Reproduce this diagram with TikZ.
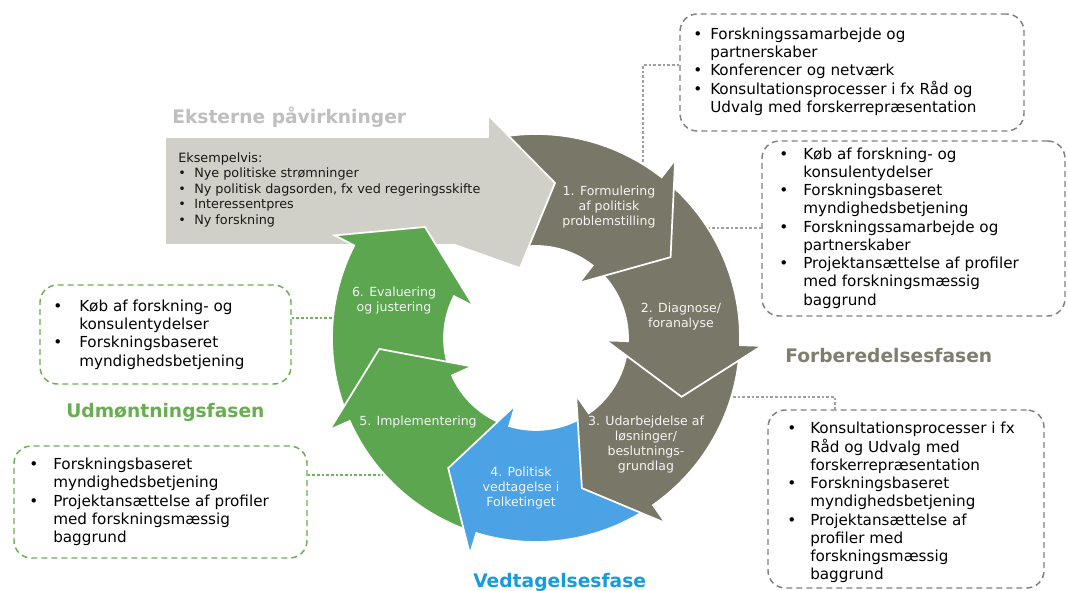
\documentclass[tikz,border=0pt]{standalone}
\usepackage{fontspec}
\setmainfont{DejaVu Sans}
\usetikzlibrary{fit}
\definecolor{olv}{RGB}{121,119,104}
\definecolor{grn}{RGB}{92,166,80}
\definecolor{blu}{RGB}{75,163,230}
\definecolor{grayarrow}{RGB}{209,208,200}
\definecolor{ttlgray}{RGB}{191,191,191}
\definecolor{ttlolive}{RGB}{128,126,110}
\definecolor{ttlgreen}{RGB}{104,174,80}
\definecolor{ttlblue}{RGB}{22,155,222}
\definecolor{boxgray}{RGB}{128,128,128}
\definecolor{boxgreen}{RGB}{106,176,80}
\definecolor{conngray}{RGB}{160,160,160}
\definecolor{conngreen}{RGB}{110,180,90}
\definecolor{lbltxt}{RGB}{244,244,244}
\newcommand{\Rout}{204}
\newcommand{\Rin}{92}
\newcommand{\Rwo}{226}
\newcommand{\Rwi}{70}
\newcommand{\Rtip}{157}
\newcommand{\ringarrow}[4]{%
  \path[ringseg, fill=#4] (#1:\Rout) arc[start angle=#1, end angle=#2, radius=\Rout]
    -- (#2:\Rwo) -- (#3:\Rtip) -- (#2:\Rwi) -- (#2:\Rin)
    arc[start angle=#2, end angle=#1, radius=\Rin] -- cycle;}
\newcommand{\bul}[1]{\makebox[#1][l]{•}}
\begin{document}
\begin{tikzpicture}[x=0.75pt,y=0.75pt,
  ringseg/.style={draw=white, line width=1.3pt, line join=miter},
  lbl/.style={text=lbltxt, align=center, font=\fontsize{9.4}{11.25}\selectfont, inner sep=0},
  gbox/.style={draw=boxgray, dash pattern=on 4.5pt off 3pt, line width=1.1pt, rounded corners=13pt, inner sep=0},
  grbox/.style={gbox, draw=boxgreen},
  gconn/.style={draw=conngray, line width=1pt, dash pattern=on 2pt off 1.5pt},
  grconn/.style={gconn, draw=conngreen},
  btxt/.style={anchor=west, inner sep=0, font=\fontsize{11.4}{13.7}\selectfont, text=black},
  ttl/.style={anchor=base west, inner sep=0, font=\fontsize{14}{16}\selectfont\bfseries}]
\useasboundingbox (0,0) rectangle (1068,590);
\fill[white] (0,0) rectangle (1068,590);

% boxes (nodes)
\node[gbox, fit={(680,576) (1024,459)}] (bA) {};
\node[gbox, fit={(762,449) (1065,274)}] (bB) {};
\node[gbox, fit={(768,180) (1044,2)}] (bC) {};
\node[grbox, fit={(40,305) (291,206)}] (bD) {};
\node[grbox, fit={(14,144) (307,32)}] (bE) {};

% connector end points on the ring
\coordinate (a1) at (643,426);
\coordinate (a2) at (708,362);
\coordinate (a3) at (733,193);
\coordinate (k3) at (835,193);
\coordinate (a6) at (333,272);
\coordinate (a5) at (383,115);

\draw[gconn] (bA.west |- 0,525) -| (a1);
\draw[gconn] (bB.west |- 0,362) -- (a2);
\draw[gconn] (a3) -- (k3) -- (k3 |- bC.north);
\draw[grconn] (bD.east |- 0,272) -- (a6);
\draw[grconn] (bE.east |- 0,115) -- (a5);

% cycle
\begin{scope}[shift={(536,252)}]
  \ringarrow{-159}{-207}{-225}{grn}
  \ringarrow{-110}{-156}{-176}{grn}
  \ringarrow{-58}{-107}{-124}{blu}
  \ringarrow{-5}{-55}{-73}{olv}
  \ringarrow{49}{-2}{-22}{olv}
  \ringarrow{99}{52}{31}{olv}
\end{scope}

% external influences arrow
\path[ringseg, fill=grayarrow] (165,453) -- (488,453) -- (488,475) -- (555,407)
  -- (520,322) -- (455,345) -- (165,345) -- cycle;

\begin{scope}
  \clip (0,290) rectangle (700,590);
  \begin{scope}[shift={(536,252)}]
    \ringarrow{-159}{-207}{-225}{grn}
  \end{scope}
\end{scope}

% labels in arrows
\node[lbl] (l1) at (609,383) {1. Formulering\\af politisk\\problemstilling};
\node[lbl] (l2) at (681,273) {2. Diagnose/\\foranalyse};
\node[lbl] (l3) at (646,145) {3. Udarbejdelse af\\løsninger/\\beslutnings-\\grundlag};
\node[lbl] (l4) at (521,102) {4. Politisk\\vedtagelse i\\Folketinget};
\node[lbl] (l5) at (418,168) {5. Implementering};
\node[lbl] (l6) at (394,289) {6. Evaluering\\og justering};

% text of the external arrow
\node[anchor=west, inner sep=0, font=\fontsize{9.6}{11.6}\selectfont, text=black!90] (tG) at (178,400)
 {\begin{tabular}{@{}l@{}l@{}}
  \multicolumn{2}{@{}l@{}}{Eksempelvis:}\\
  \bul{12pt} & Nye politiske strømninger\\
  \bul{12pt} & Ny politisk dagsorden, fx ved regeringsskifte\\
  \bul{12pt} & Interessentpres\\
  \bul{12pt} & Ny forskning
 \end{tabular}};

% box texts
\node[btxt] (tA) at (693,517.6)
 {\begin{tabular}{@{}l@{}l@{}}
  \bul{12.75pt} & Forskningssamarbejde og\\
   & partnerskaber\\
  \bul{12.75pt} & Konferencer og netværk\\
  \bul{12.75pt} & Konsultationsprocesser i fx Råd og\\
   & Udvalg med forskerrepræsentation
 \end{tabular}};
\node[btxt] (tB) at (779,361.5)
 {\begin{tabular}{@{}l@{}l@{}}
  \bul{18pt} & Køb af forskning- og\\
   & konsulentydelser\\
  \bul{18pt} & Forskningsbaseret\\
   & myndighedsbetjening\\
  \bul{18pt} & Forskningssamarbejde og\\
   & partnerskaber\\
  \bul{18pt} & Projektansættelse af profiler\\
   & med forskningsmæssig\\
   & baggrund
 \end{tabular}};
\node[btxt] (tC) at (787,87)
 {\begin{tabular}{@{}l@{}l@{}}
  \bul{17.25pt} & Konsultationsprocesser i fx\\
   & Råd og Udvalg med\\
   & forskerrepræsentation\\
  \bul{17.25pt} & Forskningsbaseret\\
   & myndighedsbetjening\\
  \bul{17.25pt} & Projektansættelse af\\
   & profiler med\\
   & forskningsmæssig\\
   & baggrund
 \end{tabular}};
\node[btxt] (tD) at (53,255)
 {\begin{tabular}{@{}l@{}l@{}}
  \bul{19.5pt} & Køb af forskning- og\\
   & konsulentydelser\\
  \bul{19.5pt} & Forskningsbaseret\\
   & myndighedsbetjening
 \end{tabular}};
\node[btxt] (tE) at (29,87.5)
 {\begin{tabular}{@{}l@{}l@{}}
  \bul{18pt} & Forskningsbaseret\\
   & myndighedsbetjening\\
  \bul{18pt} & Projektansættelse af profiler\\
   & med forskningsmæssig\\
   & baggrund
 \end{tabular}};

% titles
\node[ttl, text=ttlgray] (hE) at (172,466) {Eksterne påvirkninger};
\node[ttl, text=ttlolive] (hF) at (785,228) {Forberedelsesfasen};
\node[ttl, text=ttlgreen] (hU) at (66,173) {Udmøntningsfasen};
\node[ttl, text=ttlblue] (hV) at (473,3) {Vedtagelsesfase};
\end{tikzpicture}
\end{document}
